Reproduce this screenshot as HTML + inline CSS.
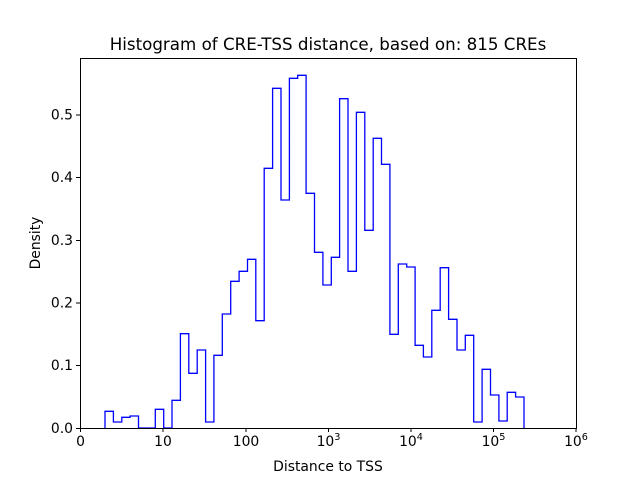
<!DOCTYPE html>
<html><head><meta charset="utf-8"><style>
body{margin:0;background:#fff;}
svg{display:block;font-family:"DejaVu Sans","Liberation Sans",sans-serif;}
</style></head><body>
<svg width="640" height="480" viewBox="0 0 640 480" xmlns="http://www.w3.org/2000/svg">
<rect width="640" height="480" fill="#fff"/>
<path fill="none" stroke="#0000ff" stroke-width="1.3" d="M105,428 V411.3 H113.4 V422 H121.8 V417.3 H130.1 V416 H138.5 V428 H146.9 V428 H155.3 V409.3 H163.7 V428 H172 V400.3 H180.4 V333.7 H188.8 V373.3 H197.2 V350 H205.6 V422 H213.9 V355.3 H222.3 V314 H230.7 V281.3 H239.1 V271.3 H247.5 V259.3 H255.8 V320.7 H264.2 V168.3 H272.6 V88.3 H281 V200 H289.4 V78.3 H297.7 V75.3 H306.1 V193.3 H314.5 V252.3 H322.9 V285 H331.3 V257.3 H339.6 V98.7 H348 V271.3 H356.4 V112.3 H364.8 V230.3 H373.2 V138.3 H381.5 V164.3 H389.9 V334.3 H398.3 V264 H406.7 V267 H415.1 V345.3 H423.4 V357 H431.8 V310.3 H440.2 V267.7 H448.6 V319.3 H457 V350 H465.3 V335.3 H473.7 V422 H482.1 V369.3 H490.5 V395 H498.9 V421 H507.2 V392.3 H515.6 V397 H524 V428"/>
<rect x="80.5" y="58.5" width="496" height="370" fill="none" stroke="#000" stroke-width="1"/>
<g stroke="#000" stroke-width="1">
<line x1="80.5" y1="428" x2="80.5" y2="432"/><line x1="163" y1="428" x2="163" y2="432"/><line x1="246" y1="428" x2="246" y2="432"/><line x1="328.5" y1="428" x2="328.5" y2="432"/><line x1="411" y1="428" x2="411" y2="432"/><line x1="493.5" y1="428" x2="493.5" y2="432"/><line x1="576" y1="428" x2="576" y2="432"/>
<line x1="76" y1="428.5" x2="80" y2="428.5"/><line x1="76" y1="365.5" x2="80" y2="365.5"/><line x1="76" y1="303" x2="80" y2="303"/><line x1="76" y1="240.5" x2="80" y2="240.5"/><line x1="76" y1="177.5" x2="80" y2="177.5"/><line x1="76" y1="115" x2="80" y2="115"/>
</g>
<g font-size="13.9" fill="#000" text-anchor="middle">
<text x="80.5" y="446">0</text><text x="163" y="446">10</text><text x="246" y="446">100</text>
<text x="328.5" y="446">10<tspan font-size="9.7" dy="-6">3</tspan></text>
<text x="411" y="446">10<tspan font-size="9.7" dy="-6">4</tspan></text>
<text x="493.5" y="446">10<tspan font-size="9.7" dy="-6">5</tspan></text>
<text x="576" y="446">10<tspan font-size="9.7" dy="-6">6</tspan></text>
</g>
<g font-size="13.9" fill="#000" text-anchor="end">
<text x="73" y="433">0.0</text><text x="73" y="370">0.1</text><text x="73" y="307.5">0.2</text><text x="73" y="245">0.3</text><text x="73" y="182">0.4</text><text x="73" y="119.5">0.5</text>
</g>
<text x="328" y="471" font-size="13.9" text-anchor="middle">Distance to TSS</text>
<text x="40" y="243" font-size="13.9" text-anchor="middle" transform="rotate(-90 40 243)">Density</text>
<text x="328" y="50" font-size="16.7" text-anchor="middle">Histogram of CRE-TSS distance, based on: 815 CREs</text>
</svg>
</body></html>
